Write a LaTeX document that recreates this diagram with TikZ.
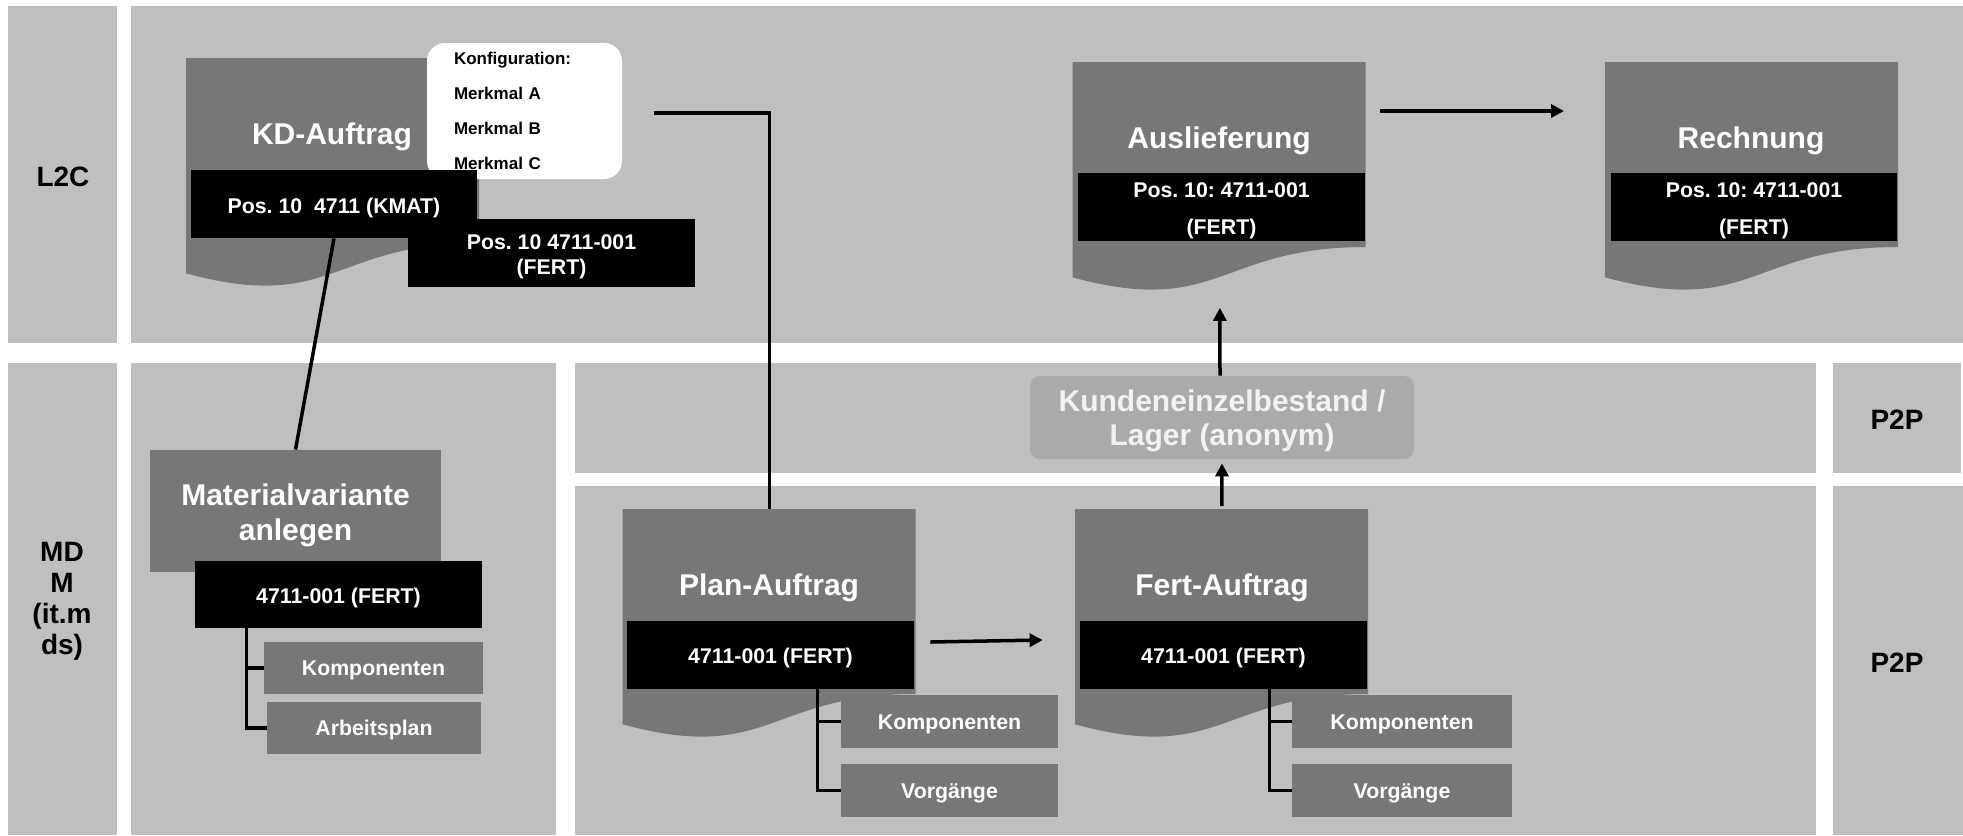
\documentclass[tikz,border=0pt]{standalone}
\usepackage{fontspec}
\setmainfont{Liberation Sans}
\usetikzlibrary{arrows.meta,calc}
\definecolor{bandgray}{HTML}{BFBFBF}
\definecolor{docgray}{HTML}{777777}
\definecolor{stockgray}{HTML}{AAAAAA}
\definecolor{stocktext}{HTML}{F2F2F2}
\frenchspacing
% invisible strut that lowers the first line of a block
\newcommand{\toplift}[1]{\rule{0pt}{#1}}

\begin{document}
\begin{tikzpicture}[x=0.5pt,y=-0.5pt,
  band/.style={fill=bandgray},
  lanelabel/.style={font=\fontsize{14}{15.5}\selectfont\bfseries, text=black, align=center, inner sep=0pt},
  docarea/.style={minimum width=146.5pt, minimum height=115.25pt, inner sep=0pt, anchor=north west},
  doctitle/.style={font=\fontsize{15}{17}\selectfont\bfseries, text=white, inner sep=0pt, text height=10.7pt, text depth=0pt},
  idbox/.style={fill=black, text=white, inner sep=0pt, align=center,
    font=\fontsize{10.65}{12.5}\selectfont\bfseries},
  subbox/.style={fill=docgray, text=white, inner sep=0pt,
    font=\fontsize{10.65}{12.5}\selectfont\bfseries},
  oneline/.style={text height=#1, text depth=0pt},
  oneline/.default=7.6pt,
  sz/.style 2 args={minimum width=#1, minimum height=#2},
  conn/.style={line width=1.75pt, draw=black},
  arr/.style={conn, -{Triangle[length=6.5pt,width=6.5pt]}},
  pics/docpage/.style={code={
    \fill[docgray] (0,0) -- (293,0) -- (293,185)
      .. controls (146.5,185) and (146.5,255.3) .. (0,215.3) -- cycle;}}
]
\useasboundingbox (0,0) rectangle (1963,835);

% swimlane bands
\fill[band] (8,6) rectangle (117,343);
\fill[band] (131,6) rectangle (1963,343);
\fill[band] (8,363) rectangle (117,835);
\fill[band] (131,363) rectangle (556,835);
\fill[band] (575,363) rectangle (1816,473);
\fill[band] (575,486) rectangle (1816,835);
\fill[band] (1833,363) rectangle (1961,473);
\fill[band] (1833,486) rectangle (1963,835);

% lane labels
\node[lanelabel] (lblL2C) at (63,177) {L2C};
\node[lanelabel] (lblMDM) at (62,601) {MD\\M\\(it.m\\ds)};
\node[lanelabel] (lblP2Pa) at (1897,420) {P2P};
\node[lanelabel] (lblP2Pb) at (1897,663) {P2P};

% document pages
\node[docarea] (kd) at (186,58) {};
\pic at (kd.north west) {docpage};
\node[docarea] (ausl) at (1072.5,62) {};
\pic at (ausl.north west) {docpage};
\node[docarea] (rech) at (1605,62) {};
\pic at (rech.north west) {docpage};
\node[docarea] (plan) at (622.5,509) {};
\pic at (plan.north west) {docpage};
\node[docarea] (fert) at (1075,509) {};
\pic at (fert.north west) {docpage};

% configuration card
\node[fill=white, rounded corners=9pt, sz={97.5pt}{68pt}, inner xsep=13.5pt, inner ysep=0pt,
  text width=70.5pt, align=left, font=\fontsize{8.5}{17.5}\selectfont\bfseries]
  (config) at (524.5,111) {Konfiguration:\\Merkmal A\\Merkmal B\\Merkmal C};

% titles
\node[doctitle] (kdtitle) at (332,133.5) {KD-Auftrag};
\node[doctitle] (ausltitle) at (1219,138) {Auslieferung};
\node[doctitle] (rechtitle) at (1751,138) {Rechnung};
\node[doctitle] (plantitle) at (769,584.5) {Plan-Auftrag};
\node[doctitle] (ferttitle) at (1222,584.5) {Fert-Auftrag};

% item bars
\node[idbox, oneline=9.1pt, sz={143pt}{34pt}] (kmat) at (334,204) {Pos. 10~~4711 (KMAT)};
\node[idbox, sz={143.5pt}{34pt}] (kdfert) at (551.5,253) {\toplift{10.8pt}Pos. 10 4711-001\\(FERT)};
\node[idbox, sz={143.5pt}{34pt}, font=\fontsize{10.65}{18.5}\selectfont\bfseries] (auslid) at (1221.5,206.7) {\toplift{11.6pt}Pos. 10: 4711-001\\(FERT)};
\node[idbox, sz={143pt}{34pt}, font=\fontsize{10.65}{18.5}\selectfont\bfseries] (rechid) at (1754,206.7) {\toplift{11.6pt}Pos. 10: 4711-001\\(FERT)};

% material master
\node[fill=docgray, text=white, sz={145.5pt}{61pt}, inner sep=0pt, align=center,
  font=\fontsize{15}{17.5}\selectfont\bfseries] (matvar) at (295.5,511) {\toplift{14.9pt}Materialvariante\\anlegen};
\node[idbox, oneline=8.6pt, sz={143.5pt}{33.5pt}] (matid) at (338.5,594.5) {4711-001 (FERT)};
\node[subbox, oneline, sz={109.5pt}{26pt}] (matcomp) at (373.5,668) {Komponenten};
\node[subbox, oneline, sz={107pt}{26pt}] (matarb) at (374,728) {Arbeitsplan};

% stock
\node[fill=stockgray, text=stocktext, rounded corners=5pt, sz={192pt}{41.5pt}, inner sep=0pt,
  align=center, font=\fontsize{15}{17}\selectfont\bfseries] (kunden) at (1222,417.5)
  {\toplift{13.9pt}Kundeneinzelbestand /\\Lager (anonym)};

% production orders
\node[idbox, oneline=8.6pt, sz={143.5pt}{34pt}] (planid) at (770.5,655) {4711-001 (FERT)};
\node[idbox, oneline=8.6pt, sz={143.5pt}{34pt}] (fertid) at (1223.5,655) {4711-001 (FERT)};
\node[subbox, oneline, sz={108.5pt}{26.5pt}] (plancomp) at (949.5,721.5) {Komponenten};
\node[subbox, oneline, sz={108.5pt}{26.5pt}] (planvorg) at (949.5,790.5) {Vorgänge};
\node[subbox, oneline, sz={110pt}{26.5pt}] (fertcomp) at (1402,721.5) {Komponenten};
\node[subbox, oneline, sz={110pt}{26.5pt}] (fertvorg) at (1402,790.5) {Vorgänge};

% connectors
\draw[conn] (kmat.south) -- (matvar.north);
\draw[conn] ([xshift=16pt,yshift=-1pt]config.east) -| (plan.north);
\draw[conn] ([xshift=26pt]matid.south west) |- (matcomp.west);
\draw[conn] ([xshift=26pt]matid.south west) |- (matarb.west);
\draw[conn] ([xshift=95.5pt]planid.south west) |- (plancomp.west);
\draw[conn] ([xshift=95.5pt]planid.south west) |- (planvorg.west);
\draw[conn] ([xshift=95pt]fertid.south west) |- (fertcomp.west);
\draw[conn] ([xshift=95pt]fertid.south west) |- (fertvorg.west);

\draw[arr] ([xshift=8pt,yshift=6.5pt]planid.east) -- ([xshift=-18.5pt,yshift=7.5pt]fertid.west);
\draw[arr, shorten <=1.5pt, shorten >=2pt] (fert.north) -- (kunden.south);
\draw[arr, shorten >=7.25pt] ([xshift=-1pt]kunden.north) -- ([xshift=0.2pt]ausl.south);
\draw[arr] ([xshift=7pt,yshift=-24.5pt]ausl.north east) -- ([xshift=-20.5pt,yshift=-24.5pt]rech.north west);

\end{tikzpicture}
\end{document}
